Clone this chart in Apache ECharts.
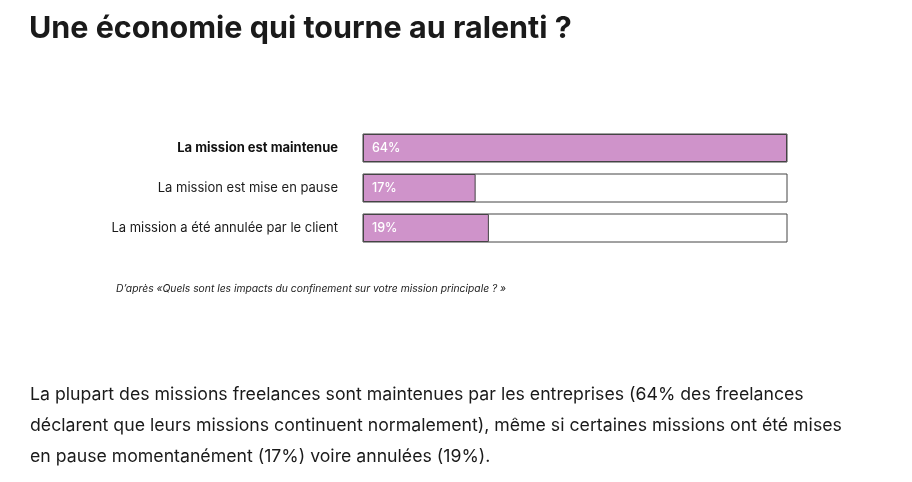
<!DOCTYPE html>
<html>
<head>
<meta charset="utf-8">
<script src="https://cdn.jsdelivr.net/npm/echarts@6/dist/echarts.min.js"></script>
<style>
  html, body { margin: 0; padding: 0; background: #fff; }
  #chart { width: 912px; height: 482px; }
</style>
</head>
<body>
<div id="chart"></div>
<script>
const categories = ['La mission est maintenue', 'La mission est mise en pause', 'La mission a été annulée par le client']
const values = [64, 17, 19]
const axisMax = 64

const titleText = 'Une économie qui tourne au ralenti ?'
const sourceText = 'D’après «Quels sont les impacts du confinement sur votre mission principale ? »'
const bodyText = 'La plupart des missions freelances sont maintenues par les entreprises (64% des freelances\ndéclarent que leurs missions continuent normalement), même si certaines missions ont été mises\nen pause momentanément (17%) voire annulées (19%).'

const chart = echarts.init(document.getElementById('chart'))

const font = 'Inter, Roboto, sans-serif'

chart.setOption({
  animation: false,
  textStyle: { fontFamily: font },
  title: [
    {
      text: titleText,
      left: 24,
      top: 8,
      textStyle: { fontSize: 30.5, fontWeight: 700, color: '#1a1a1a', fontFamily: font },
    },
    {
      text: sourceText,
      left: 111,
      top: 279,
      textStyle: { fontSize: 10.3, fontStyle: 'italic', fontWeight: 400, color: '#222', fontFamily: font },
    },
    {
      text: bodyText,
      left: 25,
      top: 374,
      textStyle: { fontSize: 17.7, fontWeight: 400, color: '#1a1a1a', lineHeight: 31, fontFamily: font },
    },
  ],
  grid: { left: 363, right: 125, top: 128, height: 120 },
  xAxis: { type: 'value', min: 0, max: axisMax, show: false },
  yAxis: {
    type: 'category',
    data: categories,
    inverse: true,
    axisLine: { show: false },
    axisTick: { show: false },
    axisLabel: {
      margin: 25,
      fontSize: 13,
      color: '#1a1a1a',
      formatter: (v, i) => (i === 0 ? '{b|' + v + '}' : v),
      rich: { b: { fontWeight: 700, fontSize: 13, color: '#111' } },
    },
  },
  series: [
    {
      type: 'bar',
      data: values,
      barWidth: 28,
      showBackground: true,
      backgroundStyle: { color: '#fff', borderColor: '#444', borderWidth: 1 },
      itemStyle: { color: '#cf93ca', borderColor: '#444', borderWidth: 1 },
      label: {
        show: true,
        position: 'insideLeft',
        offset: [4, 0],
        formatter: '{c}%',
        color: '#fff',
        fontSize: 12.5,
        fontWeight: 500,
      },
    },
  ],
})

window.addEventListener('resize', () => chart.resize())
</script>
</body>
</html>
